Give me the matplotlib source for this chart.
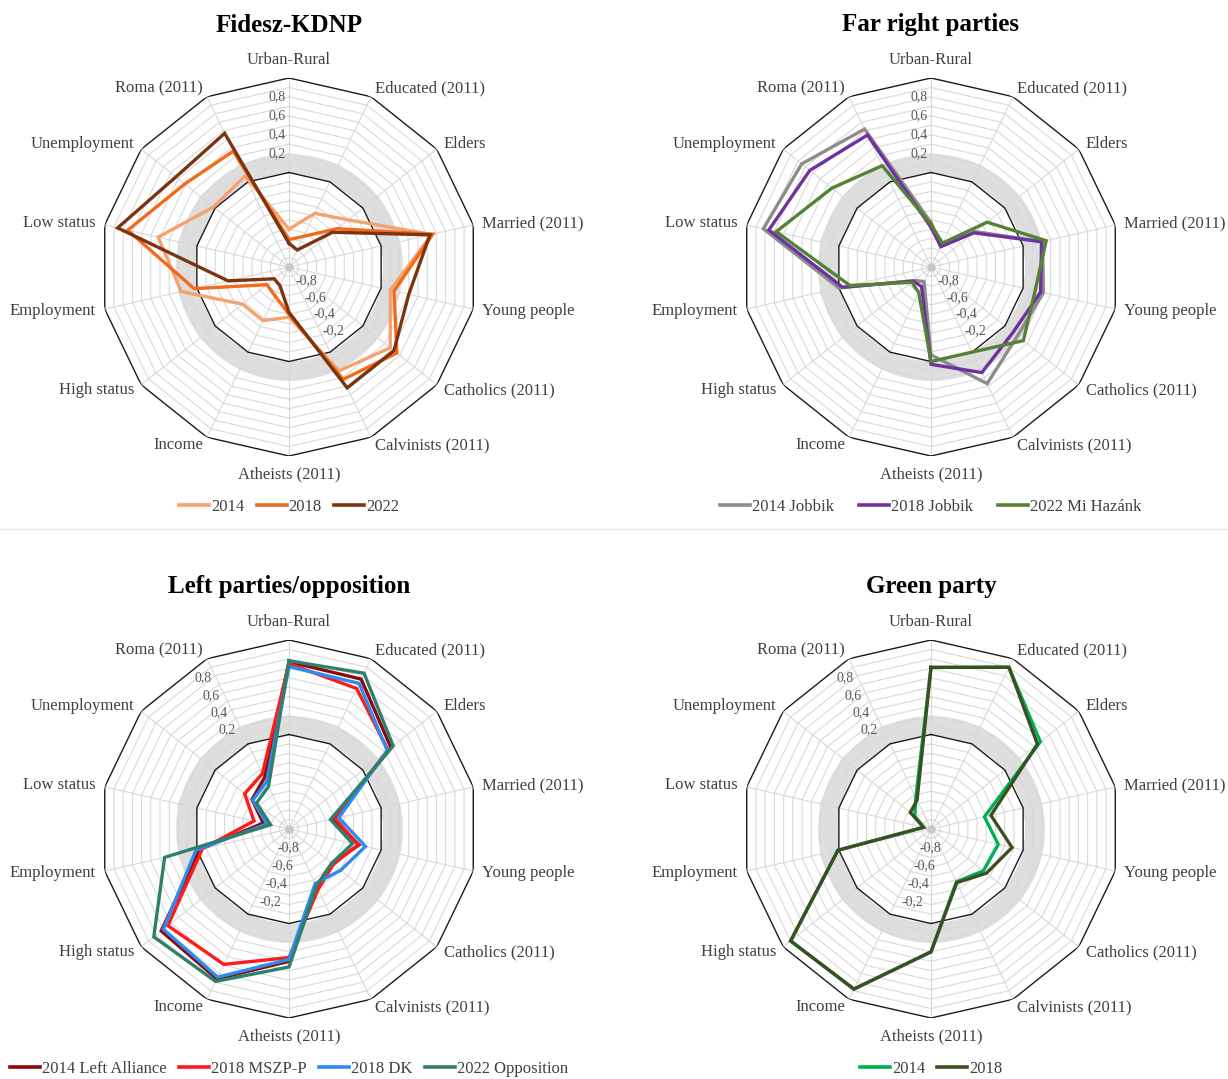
import numpy as np
import matplotlib.pyplot as plt
from matplotlib.lines import Line2D

plt.rcParams['font.family'] = ['Liberation Serif', 'DejaVu Serif']

# Spoke labels, clockwise from the top
AXES = ["Urban-Rural", "Educated (2011)", "Elders", "Married (2011)", "Young people",
        "Catholics (2011)", "Calvinists (2011)", "Atheists (2011)", "Income",
        "High status", "Employment", "Low status", "Unemployment", "Roma (2011)"]

TICKS = [0.2, 0.4, 0.6, 0.8]
NEG_TICKS = [-0.8, -0.6, -0.4, -0.2]

# Fidesz-KDNP
fidesz_labels = ["2014", "2018", "2022"]
fidesz_2014 = [-0.60, -0.37, -0.20, 0.55, 0.10, 0.37, 0.22, -0.47, -0.37, -0.37, 0.17, 0.42, 0.02, 0.07]
fidesz_2018 = [-0.71, -0.64, -0.35, 0.56, 0.14, 0.46, 0.32, -0.50, -0.66, -0.70, 0.03, 0.75, 0.41, 0.36]
fidesz_2022 = [-0.75, -0.80, -0.41, 0.53, 0.30, 0.42, 0.42, -0.52, -0.78, -0.80, -0.34, 0.86, 0.53, 0.57]

# Far right parties
far_labels = ["2014 Jobbik", "2018 Jobbik", "2022 Mi Hazánk"]
far_2014 = [-0.53, -0.76, -0.40, 0.21, 0.22, 0.17, 0.37, -0.07, -0.83, -0.77, 0.00, 0.82, 0.75, 0.62]
far_2018 = [-0.58, -0.76, -0.42, 0.20, 0.19, 0.11, 0.24, 0.03, -0.77, -0.76, -0.04, 0.76, 0.64, 0.55]
far_2022 = [-0.55, -0.72, -0.24, 0.25, 0.13, 0.25, 0.00, 0.00, -0.70, -0.74, -0.12, 0.68, 0.34, 0.19]

# Left parties / opposition
left_labels = ["2014 Left Alliance", "2018 MSZP-P", "2018 DK", "2022 Opposition"]
left_2014 = [0.77, 0.76, 0.38, -0.52, -0.24, -0.42, -0.33, 0.40, 0.76, 0.73, -0.03, -0.72, -0.50, -0.40]
left_2018_mszp = [0.75, 0.65, 0.34, -0.50, -0.25, -0.40, -0.29, 0.36, 0.59, 0.64, -0.06, -0.62, -0.40, -0.35]
left_2018_dk = [0.72, 0.71, 0.33, -0.46, -0.17, -0.30, -0.36, 0.38, 0.74, 0.70, 0.01, -0.76, -0.51, -0.45]
left_2022 = [0.78, 0.83, 0.41, -0.55, -0.31, -0.42, -0.33, 0.46, 0.79, 0.83, 0.35, -0.80, -0.56, -0.50]

# Green party
green_labels = ["2014", "2018"]
green_2014 = [0.71, 0.90, 0.48, -0.42, -0.27, -0.29, -0.38, 0.30, 0.88, 0.90, 0.01, -0.92, -0.78, -0.63]
green_2018 = [0.71, 0.90, 0.44, -0.35, -0.12, -0.25, -0.37, 0.30, 0.88, 0.90, 0.01, -0.92, -0.72, -0.66]

COLORS = {
    "fidesz": ["#F4A26E", "#F26A1B", "#7B3410"],
    "far":    ["#8C8C8C", "#7030A0", "#538135"],
    "left":   ["#8B0A0A", "#FF1A1A", "#2E8BF0", "#2F7F6F"],
    "green":  ["#00B050", "#3A4F24"],
    "grid":   "#D9D9D9",
    "band":   "#DEDEDE",
    "text":   "#404040",
}

W, H = 1228, 1079
R = 189           # radius in pixels of the value 1 ring
PX = 100 / 72     # pixels per point at dpi=100


def pt(px):
    return px / PX


def draw_radar(fig, cx, cy, title, series, labels, colors, tick_style, colspacing):
    """Draws one 14-spoke radar panel centred on pixel (cx, cy)."""
    ax = fig.add_axes([(cx - R) / W, (H - cy - R) / H, 2 * R / W, 2 * R / H],
                      projection='polar')
    ax.set_theta_zero_location('N')
    ax.set_theta_direction(-1)
    ax.set_ylim(-1, 1)
    ax.set_xticks([])
    ax.set_yticks([])
    ax.grid(False)
    ax.spines['polar'].set_visible(False)
    ax.patch.set_alpha(0)

    n = len(AXES)
    theta = np.linspace(0, 2 * np.pi, n, endpoint=False)
    closed = np.append(theta, theta[0])

    # 1. Grey band around zero
    t = np.linspace(0, 2 * np.pi, 300)
    ax.fill_between(t, -0.01, 0.2, color=COLORS["band"], lw=0, zorder=0.5)

    # 2. Grid polygons and spokes
    for v in np.arange(-0.9, 0.95, 0.1):
        if abs(v) < 1e-6:
            continue
        ax.plot(closed, [v] * (n + 1), color=COLORS["grid"], lw=0.8, zorder=1)
    for th in theta:
        ax.plot([th, th], [-1, 1], color=COLORS["grid"], lw=0.8, zorder=1)
    for v in (0.0, 1.0):
        ax.plot(closed, [v] * (n + 1), color="#1A1A1A", lw=1.0, zorder=2)
    ax.plot(0, -1, 'o', ms=5, color="#C8C8C8", zorder=2)

    # 3. Data lines
    for vals, col in zip(series, colors):
        ax.plot(closed, np.append(vals, vals[0]), color=col, lw=2.4, zorder=3,
                solid_joinstyle='miter')

    # 4. Spoke labels
    for th, name in zip(theta, AXES):
        s, c = np.sin(th), np.cos(th)
        if abs(s) < 1e-6:
            ha = 'center'
            va = 'bottom' if c > 0 else 'top'
            off = pt(10)
        else:
            ha = 'left' if s > 0 else 'right'
            va = 'center'
            off = pt(9)
        ax.annotate(name, xy=(th, 1), xytext=(off * s, off * c),
                    textcoords='offset points', ha=ha, va=va,
                    fontsize=12, color=COLORS["text"], annotation_clip=False)

    # 5. Value labels
    if tick_style == 'top':
        for v in TICKS:
            ax.annotate(f"{v:.1f}".replace('.', ','), xy=(0, v), xytext=(pt(-3.5), 0),
                        textcoords='offset points', ha='right', va='center',
                        fontsize=10, color="#595959", zorder=4)
        for v in NEG_TICKS:
            ax.annotate(f"{v:.1f}".replace('.', ','), xy=(np.radians(152), v),
                        xytext=(pt(8.8), pt(3)), textcoords='offset points',
                        ha='center', va='center', fontsize=10, color="#595959", zorder=4)
    else:
        for v in TICKS:
            ax.annotate(f"{v:.1f}".replace('.', ','), xy=(np.radians(334.8), v),
                        xytext=(pt(-13.5), pt(-3)), textcoords='offset points',
                        ha='center', va='center', fontsize=10, color="#595959", zorder=4)
        for v in NEG_TICKS:
            ax.annotate(f"{v:.1f}".replace('.', ','), xy=(np.radians(198.8), v),
                        xytext=(pt(5.5), pt(-1.2)), textcoords='offset points',
                        ha='center', va='center', fontsize=10, color="#595959", zorder=4)

    # 6. Title and legend
    fig.text(cx / W, 1 - (cy - 242) / H, title, ha='center', va='center',
             fontsize=18, fontweight='bold', color='black')
    handles = [Line2D([], [], color=col, lw=2.6) for col in colors]
    fig.legend(handles, labels, loc='center', ncol=len(labels), frameon=False,
               bbox_to_anchor=(cx / W, 1 - (cy + 240) / H), fontsize=12,
               labelcolor=COLORS["text"], handlelength=1.8, handletextpad=0.12,
               columnspacing=colspacing, borderpad=0)
    return ax


fig = plt.figure(figsize=(W / 100, H / 100), dpi=100)

draw_radar(fig, 289, 267, "Fidesz-KDNP", [fidesz_2014, fidesz_2018, fidesz_2022],
           fidesz_labels, COLORS["fidesz"], 'top', 0.75)
draw_radar(fig, 931, 267, "Far right parties", [far_2014, far_2018, far_2022],
           far_labels, COLORS["far"], 'top', 1.5)
draw_radar(fig, 289, 829, "Left parties/opposition",
           [left_2014, left_2018_mszp, left_2018_dk, left_2022],
           left_labels, COLORS["left"], 'bottom', 0.75)
draw_radar(fig, 931, 829, "Green party", [green_2014, green_2018],
           green_labels, COLORS["green"], 'bottom', 0.7)

# thin separator between the two rows
fig.add_artist(Line2D([0, 1], [1 - 529 / H, 1 - 529 / H], transform=fig.transFigure,
                      color="#E6E6E6", lw=1))

fig.savefig("out.png", dpi=100)
